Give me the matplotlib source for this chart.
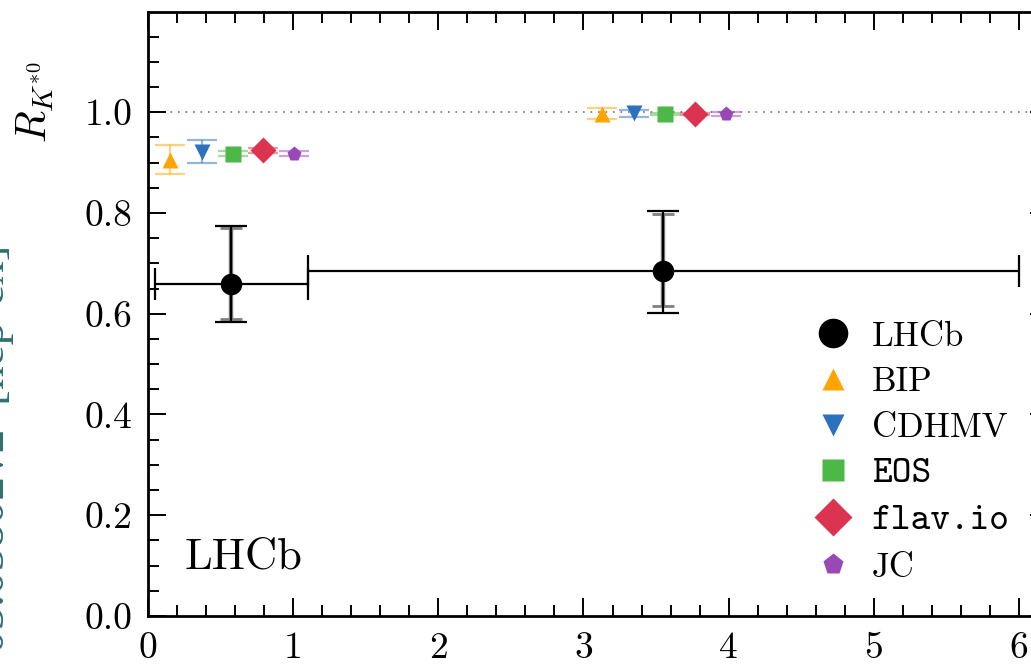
import matplotlib
matplotlib.use("Agg")
import matplotlib.pyplot as plt
from matplotlib.ticker import MultipleLocator, FormatStrFormatter

plt.rcParams['font.family'] = 'cmr10'
plt.rcParams['mathtext.fontset'] = 'cm'
plt.rcParams['axes.formatter.use_mathtext'] = True

# q^2 bins and LHCb measurement
bin_lo = [0.045, 1.1]
bin_hi = [1.1, 6.0]
lhcb_val = [0.660, 0.685]
lhcb_stat_up = [0.110, 0.113]
lhcb_stat_dn = [0.070, 0.069]
lhcb_tot_up = [0.114, 0.119]
lhcb_tot_dn = [0.076, 0.083]

# theory predictions, one entry per bin
theory_names = ['BIP', 'CDHMV', 'EOS', 'flav.io', 'JC']
theory_offset = [-0.42, -0.20, 0.01, 0.22, 0.43]
theory_bin1 = [0.906, 0.922, 0.918, 0.925, 0.918]
theory_err1 = [0.028, 0.022, 0.005, 0.005, 0.005]
theory_bin2 = [0.997, 0.998, 0.996, 0.996, 0.996]
theory_err2 = [0.011, 0.007, 0.002, 0.002, 0.004]
theory_colors = ['#ffa400', '#2c71bd', '#4cb848', '#dc3450', '#9a48b8']
theory_markers = ['^', 'v', 's', 'D', 'p']
theory_ms = [11, 11, 11, 13.5, 11]

fig = plt.figure(figsize=(10.31, 6.66), dpi=100)
ax = fig.add_axes([148/1031, 50/666, 900/1031, 604/666])

ax.axhline(1.0, color='0.45', lw=1.2, ls=(0, (1, 3.5)), zorder=0)

mids = [(lo + hi) / 2 for lo, hi in zip(bin_lo, bin_hi)]
for i in range(len(mids)):
    # statistical error
    ax.errorbar(mids[i], lhcb_val[i],
                yerr=[[lhcb_stat_dn[i]], [lhcb_stat_up[i]]],
                fmt='none', ecolor='0.5', elinewidth=3.2, capsize=8, capthick=2)
    # total error and bin width
    ax.errorbar(mids[i], lhcb_val[i],
                xerr=[[mids[i] - bin_lo[i]], [bin_hi[i] - mids[i]]],
                yerr=[[lhcb_tot_dn[i]], [lhcb_tot_up[i]]],
                fmt='none', ecolor='k', elinewidth=1.6, capsize=11.5, capthick=1.6)
ax.plot(mids, lhcb_val, 'o', color='k', ms=14.5, ls='none', label='LHCb', zorder=5)

for j, name in enumerate(theory_names):
    xs = [m + theory_offset[j] for m in mids]
    ys = [theory_bin1[j], theory_bin2[j]]
    es = [theory_err1[j], theory_err2[j]]
    ax.errorbar(xs, ys, yerr=es, fmt='none', ecolor=theory_colors[j],
                alpha=0.5, elinewidth=1.6, capsize=11, capthick=1.6)
    ax.plot(xs, ys, ls='none', marker=theory_markers[j], ms=theory_ms[j],
            color=theory_colors[j], mec='none', label=name, zorder=4)

ax.text(0.255, 0.095, 'LHCb', fontsize=32, va='baseline')

ax.set_xlim(0, 6.2)
ax.set_ylim(0, 1.199)
ax.xaxis.set_major_locator(MultipleLocator(1))
ax.xaxis.set_minor_locator(MultipleLocator(0.2))
ax.yaxis.set_major_locator(MultipleLocator(0.2))
ax.yaxis.set_minor_locator(MultipleLocator(0.05))
ax.yaxis.set_major_formatter(FormatStrFormatter('%.1f'))
ax.xaxis.set_major_formatter(FormatStrFormatter('%d'))
ax.tick_params(which='both', direction='in', top=True, right=True,
               width=1.4, labelsize=27, pad=11)
ax.tick_params(which='major', length=13)
ax.tick_params(which='minor', length=8)
for s in ax.spines.values():
    s.set_linewidth(2)

ax.set_ylabel(r'$R_{K^{*0}}$', fontsize=30, va='center', ha='center')
ax.yaxis.set_label_coords(-0.125, 0.85)

leg = ax.legend(loc='upper left', bbox_to_anchor=(816/1031, 1 - 321/666),
                bbox_transform=fig.transFigure, frameon=False, fontsize=25,
                markerscale=1.4, handlelength=1.0, handletextpad=0.6,
                labelspacing=0.40, borderpad=0, borderaxespad=0)
for t in leg.get_texts():
    if t.get_text() in ('EOS', 'flav.io'):
        t.set_fontfamily('cmtt10')
        t.set_fontsize(27)

# arXiv stamp, mostly cut off at the left edge
fig.text(4/1031, 1 - 245/666, 'arXiv:1705.05802v2  [hep-ex]', rotation=90,
         rotation_mode='anchor', ha='right', va='baseline', fontsize=34,
         family='Liberation Serif', color='#2e7070')

fig.savefig('out.png', dpi=100)
